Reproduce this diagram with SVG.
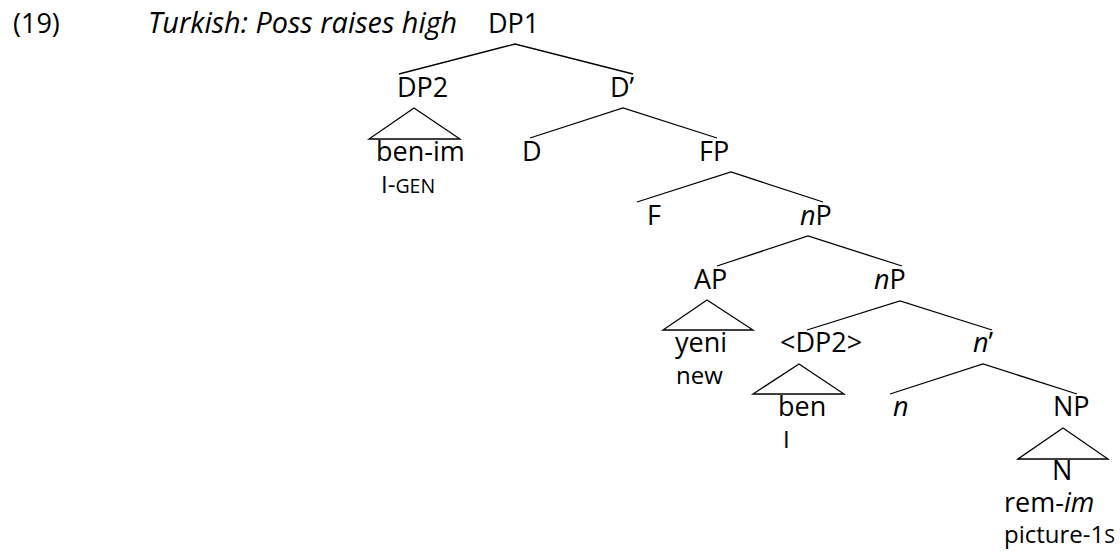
<svg xmlns="http://www.w3.org/2000/svg" width="1120" height="553" viewBox="0 0 1120 553">
<style>
text{font-family:"Open Sans","Noto Sans","Liberation Sans",sans-serif;font-size:27px;fill:#000}
.t{font-size:28.8px;font-style:italic}
.g{font-size:24px}
.sc{font-size:19.5px}
.it{font-style:italic}
.e{fill:none;stroke:#000;stroke-width:1.3;stroke-linejoin:miter}
</style>
<rect width="1120" height="553" fill="#fff"/>
<g id="title">
<text x="13" y="33">(19)</text>
<text x="148" y="33" class="t">Turkish: Poss raises high</text>
</g>
<g id="connectors">
<polyline class="e" points="399,74 515,44 633,74"/>
<polyline class="e" points="530,138 623,108 717,138"/>
<polyline class="e" points="637,202 731,172 823,202"/>
<polyline class="e" points="717,266 808,236 902,266"/>
<polyline class="e" points="807,330 900,301 992,330"/>
<polyline class="e" points="890,394 983,364 1077,394"/>
<polygon class="e" points="414,108 369,139 460,139"/>
<polygon class="e" points="707,300 663,330 753,330"/>
<polygon class="e" points="799,364 753,394 844,394"/>
<polygon class="e" points="1063,428 1018,459 1108,459"/>
</g>
<g id="dp1"><text x="488" y="33">DP1</text></g>
<g id="dp2"><text x="397" y="97">DP2</text></g>
<g id="benim"><text x="376" y="161">ben-im</text><text x="381" y="193" class="g">I-<tspan class="sc">GEN</tspan></text></g>
<g id="dbar"><text x="610" y="97">D’</text></g>
<g id="d"><text x="522" y="161">D</text></g>
<g id="fp"><text x="699" y="161">FP</text></g>
<g id="f"><text x="647" y="225">F</text></g>
<g id="np1"><text x="800" y="225"><tspan class="it">n</tspan>P</text></g>
<g id="ap"><text x="694" y="289">AP</text></g>
<g id="yeni"><text x="675" y="352">yeni</text><text x="676" y="384" class="g">new</text></g>
<g id="np2"><text x="874" y="289"><tspan class="it">n</tspan>P</text></g>
<g id="dp2trace"><text x="780" y="352">&lt;DP2&gt;</text></g>
<g id="ben"><text x="778" y="416">ben</text><text x="783" y="448" class="g">I</text></g>
<g id="nbar"><text x="973" y="352"><tspan class="it">n</tspan>’</text></g>
<g id="n"><text x="893" y="416" class="it">n</text></g>
<g id="np"><text x="1053" y="416">NP</text></g>
<g id="nhead"><text x="1052" y="480">N</text><text x="1004" y="512">rem-<tspan class="it">im</tspan></text><text x="1004" y="543" class="g">picture-1<tspan class="sc">S</tspan></text></g>
</svg>
